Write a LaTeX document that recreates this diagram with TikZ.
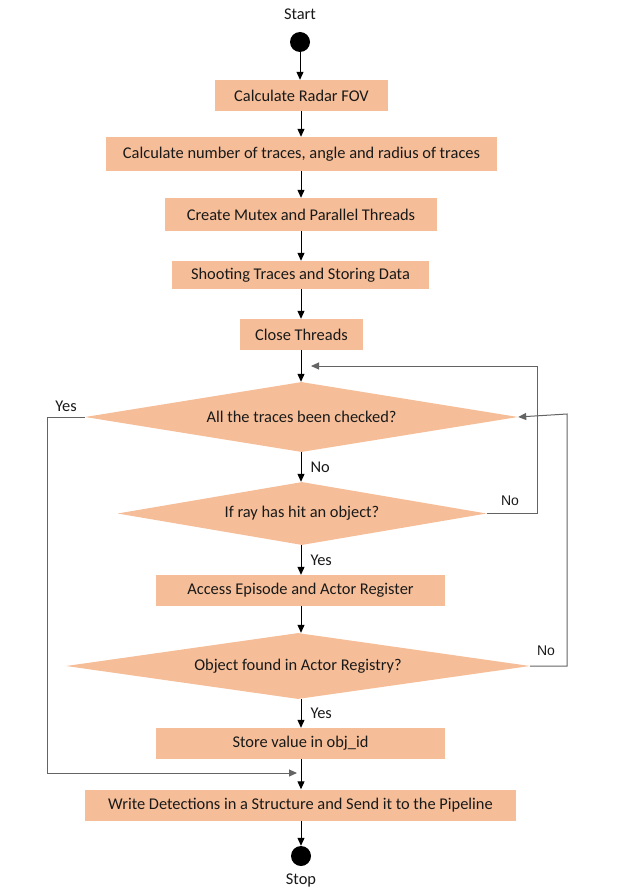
\documentclass[tikz,border=0pt]{standalone}
\usepackage{fontspec}
\setmainfont{Carlito}
\newfontfamily\arialfont{Liberation Sans}
\usetikzlibrary{shapes.geometric,arrows.meta}
\definecolor{peach}{RGB}{245,190,152}
\definecolor{loopgray}{RGB}{100,100,100}
\tikzset{
  every node/.style={font=\fontsize{16.4}{19}\selectfont, text=black!90},
  stepbox/.style={rectangle, fill=peach, inner sep=0pt},
  decision/.style={diamond, fill=peach, inner sep=0pt, aspect=6},
  dot/.style={circle, fill=black, inner sep=0pt, minimum size=20pt},
  lbl/.style={inner sep=0pt},
  albl/.style={inner sep=0pt, font=\arialfont\fontsize{14}{16}\selectfont},
  arr/.style={draw=black, line width=1pt, -{Triangle[length=8pt,width=7pt]}},
  looparr/.style={draw=loopgray, line width=1pt, -{Triangle[length=8pt,width=7pt]}},
}
\begin{document}
\begin{tikzpicture}[x=1pt,y=-1pt]
\useasboundingbox (0,0) rectangle (621,888);
\node[lbl] (start) at (300,14) {Start};
\node[dot] (sdot) at (300,42) {};
\node[stepbox, minimum width=173pt, minimum height=31pt] (b1) at (301.5,95.5) {Calculate Radar FOV};
\node[stepbox, minimum width=391pt, minimum height=34pt] (b2) at (301.5,154) {Calculate number of traces, angle and radius of traces};
\node[stepbox, minimum width=272pt, minimum height=33pt] (b3) at (301,214.5) {Create Mutex and Parallel Threads};
\node[stepbox, minimum width=257pt, minimum height=28pt] (b4) at (300.5,275) {Shooting Traces and Storing Data};
\node[stepbox, minimum width=123pt, minimum height=31pt] (b5) at (301.5,334.5) {Close Threads};
\node[decision, minimum width=433pt, minimum height=70pt] (d1) at (301.5,417) {All the traces been checked?};
\node[decision, minimum width=369pt, minimum height=63pt] (d2) at (302,513.5) {If ray has hit an object?};
\node[stepbox, minimum width=289pt, minimum height=31pt] (b6) at (300.5,590.5) {Access Episode and Actor Register};
\node[decision, minimum width=464pt, minimum height=66pt] (d3) at (298,666) {Object found in Actor Registry?};
\node[stepbox, minimum width=289pt, minimum height=31pt] (b7) at (300.5,743.5) {Store value in obj\_id};
\node[stepbox, minimum width=431pt, minimum height=31pt] (b8) at (300.5,805) {Write Detections in a Structure and Send it to the Pipeline};
\node[dot] (edot) at (301,856) {};
\node[lbl] (stop) at (301,880) {Stop};

\coordinate (in1) at (311,366);
\coordinate (in2) at (297,773);

\draw[arr] (sdot.south) -- (b1.north -| sdot.south);
\draw[arr] (b1.south -| 301,0) -- (b2.north -| 301,0);
\draw[arr] (b2.south -| 301,0) -- (b3.north -| 301,0);
\draw[arr] (b3.south -| 301,0) -- (b4.north -| 301,0);
\draw[arr] (b4.south -| 301,0) -- (b5.north -| 301,0);
\draw[arr] (b5.south -| 301,0) -- (d1.north -| 301,0);
\draw[arr] (d1.south -| 301,0) -- node[lbl, right=9pt, pos=0.5] (no1) {No} (d2.north -| 301,0);
\draw[arr] (d2.south -| 301,0) -- node[lbl, right=9pt, pos=0.5] (yes2) {Yes} (b6.north -| 301,0);
\draw[arr] (b6.south -| 301,0) -- (d3.north -| 301,0);
\draw[arr] (d3.south -| 301,0) -- node[lbl, right=9pt, pos=0.5] (yes3) {Yes} (b7.north -| 301,0);
\draw[arr] (b7.south -| 301,0) -- (b8.north -| 301,0);
\draw[arr] (b8.south -| 301,0) -- (edot.north);

\draw[looparr] (d2.east) -- (537,513.5) -- (537,366) -- (in1);
\node[albl] (no2) at (510,501) {No};
\draw[looparr] (d3.east) -- (567,666) -- (567,414) -- (d1.east);
\node[albl] (no3) at (546,651) {No};
\draw[looparr] (d1.west) -- (47,417) -- (47,773) -- (in2);
\node[lbl] (yes1) at (66,406) {Yes};
\end{tikzpicture}
\end{document}
